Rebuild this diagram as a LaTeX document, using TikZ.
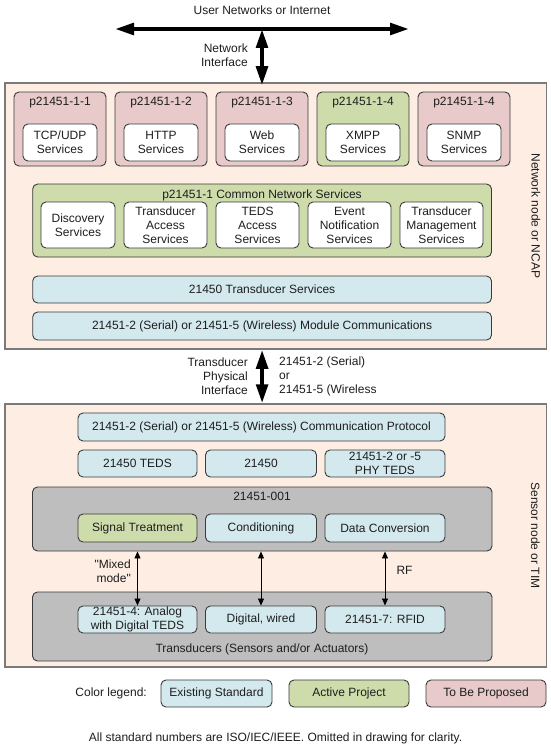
\documentclass[tikz,border=0pt]{standalone}
\usepackage{fontspec}
\setmainfont{Liberation Sans}[Ligatures=TeXOff]
\usetikzlibrary{arrows.meta}
\definecolor{peach}{HTML}{FDEDE3}
\definecolor{pinkF}{HTML}{E8CACA}
\definecolor{greenF}{HTML}{CEDCAB}
\definecolor{blueF}{HTML}{D3E9EE}
\definecolor{grayF}{HTML}{BEBEBE}
\definecolor{bordD}{HTML}{3A3A3A}
\definecolor{bordL}{HTML}{7A7A7A}
\definecolor{txt}{HTML}{1E1E1E}
\tikzset{
  bx/.style={draw=bordD, line width=0.9pt, rounded corners=5pt, inner sep=0pt, align=center, text=txt},
  outer/.style={draw=bordL, line width=1.5pt, fill=peach, inner sep=0pt},
  lbl/.style={inner sep=0pt, text=txt},
  bigarrow/.style={line width=4pt, {Triangle[length=19pt,width=11.5pt]}-{Triangle[length=19pt,width=11.5pt]}},
  smallarrow/.style={line width=0.8pt, {Triangle[length=7pt,width=6pt]}-{Triangle[length=7pt,width=6pt]}},
}
\begin{document}
\begin{tikzpicture}[x=1pt,y=-1pt,font=\fontsize{12}{14}\selectfont]
\useasboundingbox (0,0) rectangle (550,752);
\fill[white] (0,0) rectangle (550,752);

% ---------- Top: user networks ----------
\node[lbl] (inet) at (262,10) {User Networks or Internet};
\coordinate (inetL) at (115,29);
\coordinate (inetR) at (409,29);
\coordinate (inetJ) at (262,29);

% ---------- NCAP ----------
\node[outer, minimum width=541.5pt, minimum height=266pt] (ncap) at (275.75,216) {};
\node[lbl, rotate=-90] (ncapl) at (536,216) {Network node or NCAP};

\node[bx, fill=pinkF, minimum width=92pt, minimum height=74pt] (p1) at (60,129) {};
\node[bx, fill=pinkF, minimum width=92pt, minimum height=74pt] (p2) at (161,129) {};
\node[bx, fill=pinkF, minimum width=92pt, minimum height=74pt] (p3) at (262,129) {};
\node[bx, fill=greenF, minimum width=92pt, minimum height=74pt] (p4) at (363,129) {};
\node[bx, fill=pinkF, minimum width=92pt, minimum height=74pt] (p5) at (464,129) {};
\node[lbl] (p1l) at (60,102.5) {p21451-1-1};
\node[lbl] (p2l) at (161,102.5) {p21451-1-2};
\node[lbl] (p3l) at (262,102.5) {p21451-1-3};
\node[lbl] (p4l) at (363,102.5) {p21451-1-4};
\node[lbl] (p5l) at (464,102.5) {p21451-1-4};
\node[bx, fill=white, minimum width=74pt, minimum height=37pt] (s1) at (60,142.5) {TCP/UDP\\Services};
\node[bx, fill=white, minimum width=74pt, minimum height=37pt] (s2) at (161,142.5) {HTTP\\Services};
\node[bx, fill=white, minimum width=74pt, minimum height=37pt] (s3) at (262,142.5) {Web\\Services};
\node[bx, fill=white, minimum width=74pt, minimum height=37pt] (s4) at (363,142.5) {XMPP\\Services};
\node[bx, fill=white, minimum width=74pt, minimum height=37pt] (s5) at (464,142.5) {SNMP\\Services};

\node[bx, fill=greenF, minimum width=458.8pt, minimum height=73pt] (cns) at (262.1,220.5) {};
\node[lbl] (cnsl) at (262,195) {p21451-1 Common Network Services};
\node[bx, fill=white, minimum width=74pt, minimum height=46pt] (c1) at (78,225) {Discovery\\Services};
\node[bx, fill=white, minimum width=83pt, minimum height=46pt] (c2) at (165.5,225) {Transducer\\Access\\Services};
\node[bx, fill=white, minimum width=83pt, minimum height=46pt] (c3) at (257.5,225) {TEDS\\Access\\Services};
\node[bx, fill=white, minimum width=83pt, minimum height=46pt] (c4) at (349.5,225) {Event\\Notification\\Services};
\node[bx, fill=white, minimum width=83pt, minimum height=46pt] (c5) at (441.5,225) {Transducer\\Management\\Services};

\node[bx, fill=blueF, minimum width=458.8pt, minimum height=27pt] (ts) at (262.1,289.5) {21450 Transducer Services};
\node[bx, fill=blueF, minimum width=458.8pt, minimum height=28pt] (mc) at (262.1,326) {21451-2 (Serial) or 21451-5 (Wireless) Module Communications};

% ---------- TIM ----------
\node[outer, minimum width=541.5pt, minimum height=263pt] (tim) at (275.75,535.5) {};
\node[lbl, rotate=-90] (timl) at (535.5,535.5) {Sensor node or TIM};

\node[bx, fill=blueF, minimum width=367pt, minimum height=28pt] (cp) at (261.5,427) {21451-2 (Serial) or 21451-5 (Wireless) Communication Protocol};
\node[bx, fill=blueF, minimum width=119pt, minimum height=27pt] (t1) at (137.5,463.5) {21450 TEDS};
\node[bx, fill=blueF, minimum width=111pt, minimum height=27pt] (t2) at (261,463.5) {21450};
\node[bx, fill=blueF, minimum width=120pt, minimum height=27pt] (t3) at (385,463.5) {21451-2 or -5\\PHY TEDS};

\node[bx, fill=grayF, minimum width=459.5pt, minimum height=64pt] (g1) at (262.25,519) {};
\node[lbl] (g1l) at (262,496) {21451-001};
\node[bx, fill=greenF, minimum width=119pt, minimum height=28pt] (st) at (137.5,528) {Signal Treatment};
\node[bx, fill=blueF, minimum width=111pt, minimum height=28pt] (co) at (261,528) {Conditioning};
\node[bx, fill=blueF, minimum width=120pt, minimum height=28pt] (dc) at (385,528) {Data Conversion};

\node[bx, fill=grayF, minimum width=459.5pt, minimum height=69pt] (g2) at (262.25,626.5) {};
\node[lbl] (g2l) at (262,649) {Transducers (Sensors and/or Actuators)};
\node[bx, fill=blueF, minimum width=119pt, minimum height=27pt] (an) at (137.5,619.5) {21451-4: Analog\\with Digital TEDS};
\node[bx, fill=blueF, minimum width=111pt, minimum height=27pt] (dw) at (261,619.5) {Digital, wired};
\node[bx, fill=blueF, minimum width=120pt, minimum height=27pt] (rf) at (385,619.5) {21451-7: RFID};

\draw[smallarrow] (st |- g1.south) -- (an.north);
\draw[smallarrow] (co |- g1.south) -- (dw.north);
\draw[smallarrow] (dc |- g1.south) -- (rf.north);
\node[lbl, anchor=east, align=right] (mm) at (131,571) {"Mixed\\mode"};
\node[lbl] (rfl) at (404.5,570.5) {RF};

% ---------- Big arrows ----------
\draw[bigarrow] (inetL) -- (inetR);
\draw[bigarrow] (inetJ) -- ([yshift=-3pt]inetJ |- ncap.north);
\node[lbl, anchor=east, align=right] (nif) at (248,55) {Network\\Interface};

\draw[bigarrow] (mc |- ncap.south) -- (mc |- tim.north);
\node[lbl, anchor=east, align=right] (tpi) at (248,376) {Transducer\\Physical\\Interface};
\node[lbl, anchor=west, align=left] (tpr) at (279,376) {21451-2 (Serial)\\or\\21451-5 (Wireless};

% ---------- Legend ----------
\node[lbl, anchor=east] (leg) at (147,693.5) {Color legend:};
\node[bx, fill=blueF, minimum width=111pt, minimum height=27pt] (le1) at (216.5,693.5) {Existing Standard};
\node[bx, fill=greenF, minimum width=120pt, minimum height=27pt] (le2) at (349,693.5) {Active Project};
\node[bx, fill=pinkF, minimum width=120pt, minimum height=27pt] (le3) at (486,693.5) {To Be Proposed};
\node[lbl] (foot) at (275.5,738) {All standard numbers are ISO/IEC/IEEE. Omitted in drawing for clarity.};
\end{tikzpicture}
\end{document}
